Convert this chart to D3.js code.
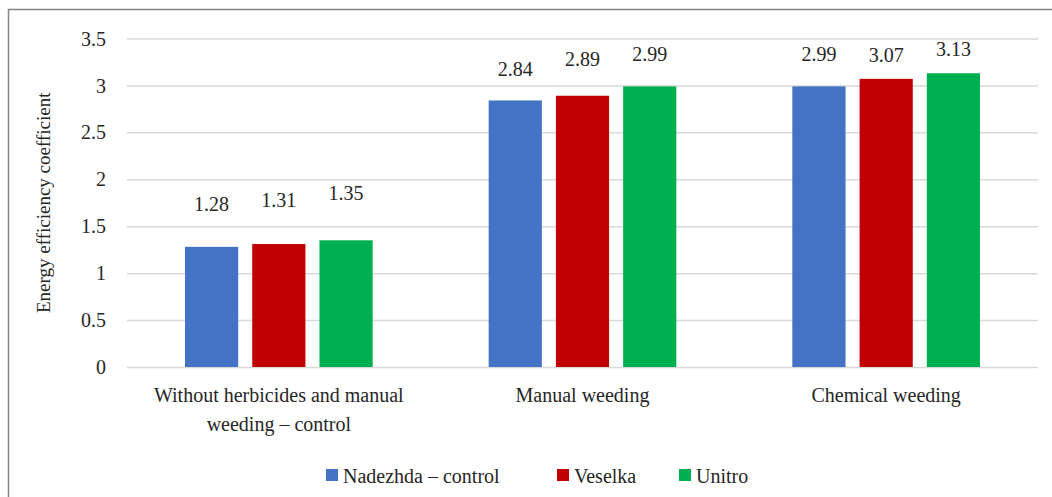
<!DOCTYPE html>
<html>
<head>
<meta charset="utf-8">
<script src="https://cdn.jsdelivr.net/npm/d3@7"></script>
</head>
<body style="margin:0">
<svg id="fig" width="1052" height="497"></svg>
<script>
// Treatments (x-axis groups)
const categories = [
  ["Without herbicides and manual", "weeding \u2013 control"],
  ["Manual weeding"],
  ["Chemical weeding"]
];
// Varieties (series)
const seriesNames = ["Nadezhda \u2013 control", "Veselka", "Unitro"];
const seriesColors = ["#4472C4", "#C00000", "#00B050"];
// Energy efficiency coefficient per treatment, one array per variety
const nadezhda = [1.28, 2.84, 2.99];
const veselka  = [1.31, 2.89, 3.07];
const unitro   = [1.35, 2.99, 3.13];
const yTicks = [0, 0.5, 1, 1.5, 2, 2.5, 3, 3.5];

// Vertical lift of each value label above its bar (px), per treatment / variety
const labelLift = [
  [36, 37, 40],
  [24, 30, 25],
  [25, 17, 17]
];

const FONT = "Liberation Serif";
const INK = "#262626";

const series = [nadezhda, veselka, unitro];
const svg = d3.select("#fig").attr("font-family", FONT);

const txt = sel => sel
  .attr("font-family", FONT)
  .style("font-family", FONT, "important")
  .attr("fill", INK);

// outer frame (left and top edges)
svg.append("path")
  .attr("d", "M8.5,497 V9.5 H1052")
  .attr("fill", "none")
  .attr("stroke", "#858585")
  .attr("stroke-width", 1.5);

const plot = { left: 127, right: 1038, top: 38.5, bottom: 367 };

const y = d3.scaleLinear().domain([0, 3.5]).range([plot.bottom, plot.top]);
const x0 = d3.scaleBand().domain(d3.range(categories.length))
  .range([plot.left, plot.right]).paddingInner(0).paddingOuter(0);
const x1 = d3.scaleBand().domain(d3.range(seriesNames.length))
  .range([58, x0.bandwidth() - 58]).paddingInner(14 / 67);

// gridlines
const grid = d3.axisLeft(y).tickValues(yTicks).tickSize(-(plot.right - plot.left)).tickFormat("");
svg.append("g")
  .attr("transform", `translate(${plot.left},0)`)
  .call(grid)
  .call(g => g.select(".domain").remove())
  .call(g => g.selectAll("line").attr("stroke", "#D9D9D9").attr("stroke-width", 1.5));

// y tick labels
const yAxis = d3.axisLeft(y).tickValues(yTicks).tickSize(0).tickPadding(0)
  .tickFormat(d => d3.format("")(d));
svg.append("g")
  .attr("transform", `translate(${plot.left - 21},0)`)
  .call(yAxis)
  .attr("font-family", FONT)
  .attr("font-size", 20)
  .call(g => g.select(".domain").remove())
  .call(g => g.selectAll("text").call(txt).attr("dy", "0.33em"));

// y axis title
svg.append("text")
  .attr("transform", `translate(50,${(plot.top + plot.bottom) / 2}) rotate(-90)`)
  .attr("text-anchor", "middle")
  .attr("font-size", 19)
  .call(txt)
  .text("Energy efficiency coefficient");

// bars and value labels
const groups = svg.append("g").selectAll("g")
  .data(categories)
  .join("g")
  .attr("transform", (d, i) => `translate(${x0(i)},0)`);

groups.each(function (cat, ci) {
  const g = d3.select(this);
  seriesNames.forEach((name, si) => {
    const v = series[si][ci];
    g.append("rect")
      .attr("x", x1(si))
      .attr("width", x1.bandwidth())
      .attr("y", y(v))
      .attr("height", y(0) - y(v))
      .attr("fill", seriesColors[si]);
    g.append("text")
      .attr("x", x1(si) + x1.bandwidth() / 2)
      .attr("y", y(v) - labelLift[ci][si])
      .attr("text-anchor", "middle")
      .attr("font-size", 20)
      .call(txt)
      .text(d3.format(".2f")(v));
  });
});

// category labels
categories.forEach((lines, i) => {
  const cx = x0(i) + x0.bandwidth() / 2;
  const t = svg.append("text")
    .attr("x", cx)
    .attr("y", 402)
    .attr("text-anchor", "middle")
    .attr("font-size", 20)
    .call(txt);
  lines.forEach((ln, k) => {
    t.append("tspan")
      .attr("x", cx)
      .attr("dy", k === 0 ? 0 : 29)
      .text(ln);
  });
});

// legend
const legendX = [326, 557, 679];
const legend = svg.append("g");
seriesNames.forEach((name, i) => {
  legend.append("rect")
    .attr("x", legendX[i]).attr("y", 469)
    .attr("width", 12).attr("height", 12)
    .attr("fill", seriesColors[i]);
  legend.append("text")
    .attr("x", legendX[i] + 17).attr("y", 483)
    .attr("font-size", 20)
    .call(txt)
    .text(name);
});
</script>
</body>
</html>
